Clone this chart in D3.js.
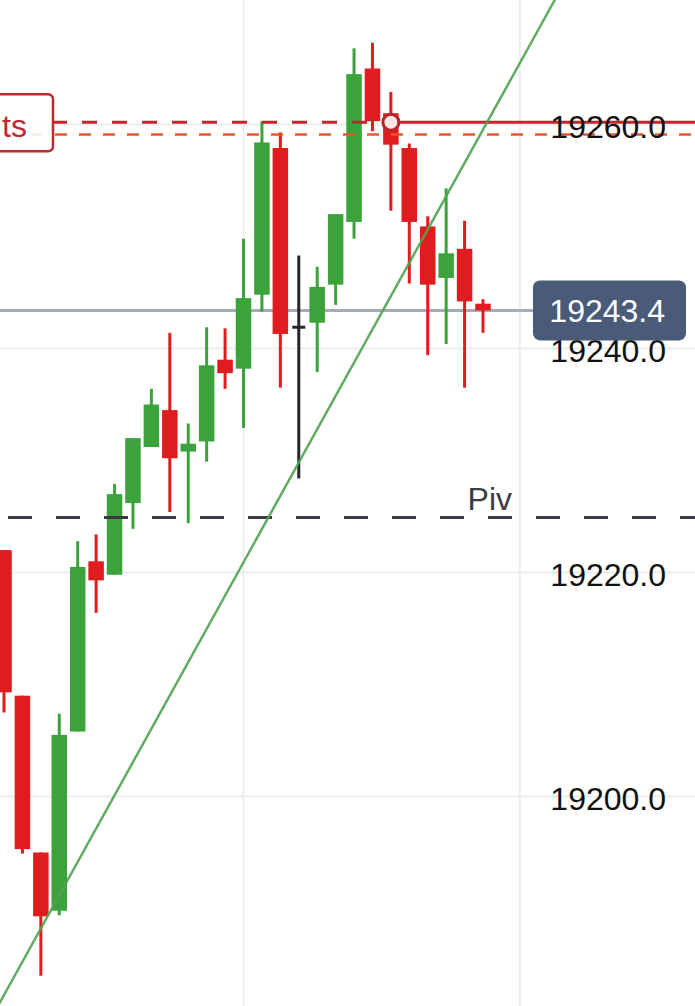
<!DOCTYPE html>
<html>
<head>
<meta charset="utf-8">
<script src="https://cdn.jsdelivr.net/npm/d3@7"></script>
<style>
  html, body { margin: 0; padding: 0; background: #ffffff; }
  svg { display: block; }
  text { font-family: "Liberation Sans", Arial, Helvetica, sans-serif; }
</style>
</head>
<body>
<div id="chart"></div>
<script>
// ---------- DATA ----------
const barIndex = d3.range(27);
const openVals  = [19222.0, 19209.0, 19195.0, 19189.8, 19205.8, 19221.0, 19219.8, 19226.2, 19231.2, 19234.5, 19230.8, 19231.7, 19239.0, 19238.2, 19244.8, 19257.9, 19241.9, 19242.3, 19245.7, 19251.3, 19265.0, 19261.0, 19257.9, 19250.9, 19246.3, 19248.9, 19244.0];
const highVals  = [19222.0, 19209.0, 19195.0, 19207.4, 19222.8, 19223.4, 19227.9, 19232.0, 19236.4, 19241.4, 19233.3, 19241.9, 19241.8, 19249.8, 19260.3, 19259.3, 19248.3, 19247.3, 19252.0, 19266.8, 19267.3, 19262.9, 19258.3, 19251.8, 19254.3, 19251.4, 19244.4];
const lowVals   = [19207.5, 19194.9, 19184.0, 19189.4, 19205.8, 19216.4, 19219.8, 19223.9, 19231.2, 19225.4, 19224.4, 19229.9, 19236.4, 19232.9, 19243.3, 19236.5, 19228.4, 19237.9, 19243.9, 19249.8, 19259.4, 19252.3, 19245.8, 19239.4, 19240.4, 19236.5, 19241.4];
const closeVals = [19209.3, 19195.3, 19189.3, 19205.5, 19220.5, 19219.3, 19227.0, 19232.0, 19235.0, 19230.2, 19231.5, 19238.5, 19237.8, 19244.5, 19258.4, 19241.3, 19241.9, 19245.5, 19252.0, 19264.5, 19260.3, 19258.2, 19251.3, 19245.7, 19248.5, 19244.2, 19243.4];

const yTickValues = [19200, 19220, 19240, 19260];
const xGridBars = [13, 28];

const lastPrice = 19243.4;
const alertPrice = 19260.2;      // dark red line
const alertLabel = "ts";
const alertBarIndex = 21;        // circle marker bar
const orangePrice = 19259.1;     // orange dashed line
const pivotPrice = 19224.9;
const pivotLabel = "Piv";
const trendPoints = [[-1, 19179.3], [31, 19274.4]]; // [bar index, price]

// ---------- LAYOUT ----------
const W = 695, H = 1006;
const svg = d3.select("#chart").append("svg")
  .attr("width", W).attr("height", H)
  .attr("viewBox", `0 0 ${W} ${H}`);

svg.append("rect").attr("width", W).attr("height", H).attr("fill", "#ffffff");

const x = d3.scaleLinear().domain([0, 26]).range([4, 483]);
const y = d3.scaleLinear().domain([19200, 19260]).range([796.5, 124.5]);

const candles = barIndex.map(i => ({
  i, o: openVals[i], h: highVals[i], l: lowVals[i], c: closeVals[i]
}));

const GREEN = "#3ca33c", RED = "#e01c1e", DOJI = "#24242a";
const colorOf = d => d.c > d.o ? GREEN : (d.c < d.o ? RED : DOJI);

// gridlines
svg.append("g").selectAll("line").data(yTickValues).join("line")
  .attr("x1", 0).attr("x2", W)
  .attr("y1", d => y(d)).attr("y2", d => y(d))
  .attr("stroke", "#ededf0").attr("stroke-width", 2);

svg.append("g").selectAll("line").data(xGridBars).join("line")
  .attr("x1", d => x(d)).attr("x2", d => x(d))
  .attr("y1", 0).attr("y2", H)
  .attr("stroke", "#ededf0").attr("stroke-width", 2);

// last price line (behind candles)
svg.append("line")
  .attr("x1", 0).attr("x2", 534)
  .attr("y1", y(lastPrice)).attr("y2", y(lastPrice))
  .attr("stroke", "#a4abb9").attr("stroke-width", 3);

// candles
const cg = svg.append("g");
const bodyW = 15.5;
cg.selectAll("line.wick").data(candles).join("line")
  .attr("class", "wick")
  .attr("x1", d => x(d.i)).attr("x2", d => x(d.i))
  .attr("y1", d => y(d.h)).attr("y2", d => y(d.l))
  .attr("stroke", colorOf).attr("stroke-width", 3);

cg.selectAll("rect.body").data(candles.filter(d => d.o !== d.c)).join("rect")
  .attr("class", "body")
  .attr("x", d => x(d.i) - bodyW / 2)
  .attr("width", bodyW)
  .attr("y", d => y(Math.max(d.o, d.c)))
  .attr("height", d => Math.max(2, Math.abs(y(d.o) - y(d.c))))
  .attr("fill", colorOf);

cg.selectAll("line.doji").data(candles.filter(d => d.o === d.c)).join("line")
  .attr("class", "doji")
  .attr("x1", d => x(d.i) - 6.5).attr("x2", d => x(d.i) + 6.5)
  .attr("y1", d => y(d.o)).attr("y2", d => y(d.o))
  .attr("stroke", DOJI).attr("stroke-width", 3);

// pivot dashed line
svg.append("line")
  .attr("x1", 8).attr("x2", W)
  .attr("y1", y(pivotPrice)).attr("y2", y(pivotPrice))
  .attr("stroke", "#3a3a44").attr("stroke-width", 3)
  .attr("stroke-dasharray", "24,24");
svg.append("text")
  .attr("x", 512).attr("y", y(pivotPrice) - 8)
  .attr("text-anchor", "end")
  .attr("font-size", 32).attr("fill", "#3c3c46")
  .text(pivotLabel);

// orange dashed line
svg.append("line")
  .attr("x1", 7).attr("x2", W)
  .attr("y1", y(orangePrice)).attr("y2", y(orangePrice))
  .attr("stroke", "#e2592a").attr("stroke-width", 2.5)
  .attr("stroke-dasharray", "12,12");

// alert line: dashed to marker, solid after
const ax = x(alertBarIndex);
svg.append("line")
  .attr("x1", 52).attr("x2", ax)
  .attr("y1", y(alertPrice)).attr("y2", y(alertPrice))
  .attr("stroke", "#c0282d").attr("stroke-width", 3)
  .attr("stroke-dasharray", "15,15");
svg.append("line")
  .attr("x1", ax).attr("x2", W)
  .attr("y1", y(alertPrice)).attr("y2", y(alertPrice))
  .attr("stroke", "#c0282d").attr("stroke-width", 3);

// alert label box (clipped on left)
svg.append("rect")
  .attr("x", -20).attr("y", y(alertPrice) - 28)
  .attr("width", 73).attr("height", 57)
  .attr("rx", 5)
  .attr("fill", "rgba(255,255,255,0.88)")
  .attr("stroke", "#c0282d").attr("stroke-width", 2.5);
svg.append("text")
  .attr("x", 27).attr("y", y(alertPrice) + 15)
  .attr("text-anchor", "end")
  .attr("font-size", 32).attr("fill", "#c0282d")
  .text(alertLabel);

// trend line
svg.append("line")
  .attr("x1", x(trendPoints[0][0])).attr("y1", y(trendPoints[0][1]))
  .attr("x2", x(trendPoints[1][0])).attr("y2", y(trendPoints[1][1]))
  .attr("stroke", "#4fa34f").attr("stroke-width", 2.5)
  .attr("stroke-opacity", 0.9);

// alert marker circle
svg.append("circle")
  .attr("cx", ax).attr("cy", y(alertPrice)).attr("r", 8)
  .attr("fill", "#fce6e6").attr("stroke", "#bb2429").attr("stroke-width", 3);

// y tick labels
svg.append("g").selectAll("text").data(yTickValues).join("text")
  .attr("x", 666).attr("y", d => y(d) + 13)
  .attr("text-anchor", "end")
  .attr("font-size", 32).attr("fill", "#111111")
  .text(d => d3.format(".1f")(d));

// last price label
svg.append("rect")
  .attr("x", 533).attr("y", y(lastPrice) - 30)
  .attr("width", 153).attr("height", 60).attr("rx", 7)
  .attr("fill", "#4a5b7a");
svg.append("text")
  .attr("x", 665).attr("y", y(lastPrice) + 12)
  .attr("text-anchor", "end")
  .attr("font-size", 32).attr("fill", "#ffffff")
  .text(d3.format(".1f")(lastPrice));
</script>
</body>
</html>
